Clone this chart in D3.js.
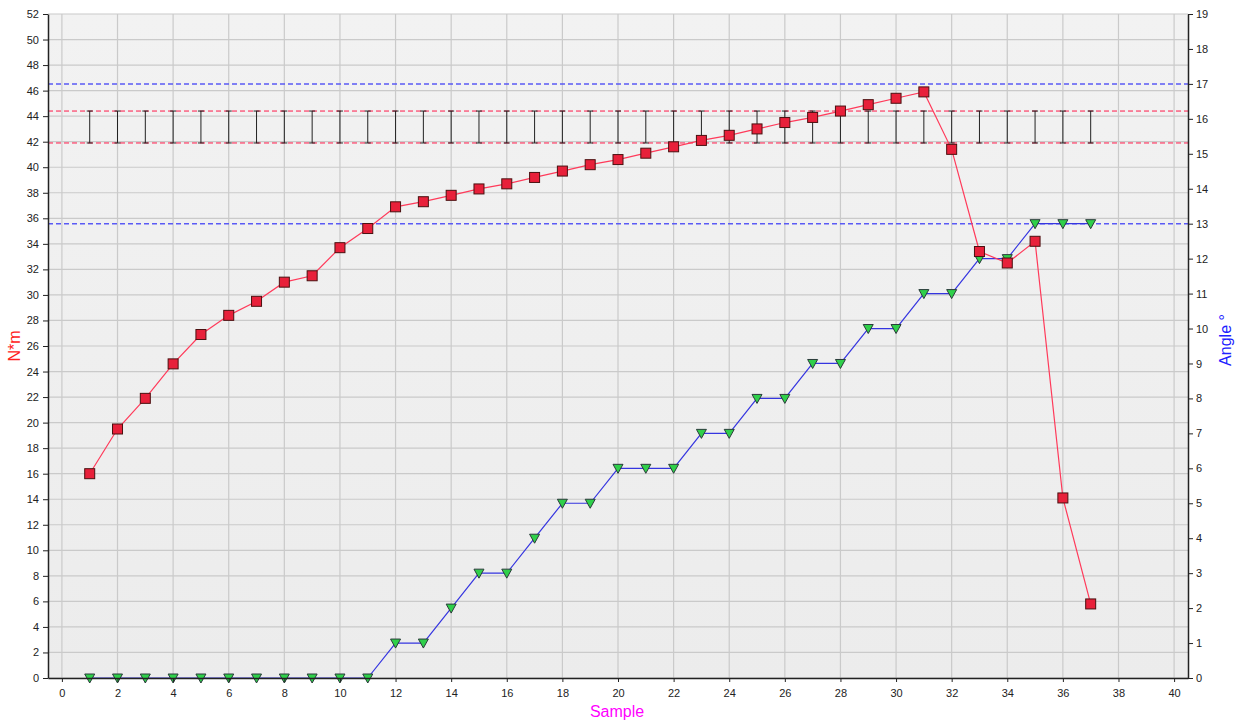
<!DOCTYPE html>
<html>
<head>
<meta charset="utf-8">
<script src="https://cdn.jsdelivr.net/npm/d3@7"></script>
<style>
  body { margin: 0; background: #fff; }
  svg { font-family: "Liberation Sans", Arial, sans-serif; }
</style>
</head>
<body>
<svg id="chart" width="1237" height="720"></svg>
<script>
// 数据
const samples = d3.range(1, 38);
const torque = [16.0, 19.5, 21.9, 24.6, 26.9, 28.4, 29.5, 31.0, 31.5, 33.7,
    35.2, 36.9, 37.3, 37.8, 38.3, 38.7, 39.2, 39.7, 40.2, 40.6,
    41.1, 41.6, 42.1, 42.5, 43.0, 43.5, 43.9, 44.4, 44.9, 45.4,
    45.9, 41.4, 33.4, 32.5, 34.2, 14.1, 5.8];
const angle = [0, 0, 0, 0, 0, 0, 0, 0, 0, 0,
    0, 1, 1, 2, 3, 3, 4, 5, 5, 6,
    6, 6, 7, 7, 8, 8, 9, 9, 10, 10,
    11, 11, 12, 12, 13, 13, 13];
// 扭矩 上下限
const torqueLimits = [41.9, 44.4];
// 角度 上下限
const angleLimits = [13, 17];
const xTicks = d3.range(0, 41, 2);
const leftTicks = d3.range(0, 53, 2);
const rightTicks = d3.range(0, 20, 1);

let svg = d3.select('#chart');
let margin = {left: 48, top: 14, right: 49, bottom: 42},
    width = 1237 - margin.left - margin.right,
    height = 720 - margin.top - margin.bottom;

// 比例尺
let x = d3.scaleLinear().domain([-0.5, 40.5]).range([margin.left, margin.left + width]);
let yL = d3.scaleLinear().domain([0, 52]).range([margin.top + height, margin.top]);
let yR = d3.scaleLinear().domain([0, 19]).range([margin.top + height, margin.top]);

// 背景
let defs = svg.append('defs');
let grad = defs.append('linearGradient').attr('id', 'bg').attr('x1', 0).attr('y1', 0).attr('x2', 0).attr('y2', 1);
grad.append('stop').attr('offset', '0%').attr('stop-color', '#f2f2f2');
grad.append('stop').attr('offset', '100%').attr('stop-color', '#ececec');
svg.append('rect')
    .attr('x', margin.left).attr('y', margin.top)
    .attr('width', width).attr('height', height)
    .attr('fill', 'url(#bg)');

// 网格
let grid = svg.append('g');
grid.selectAll('.hg').data(leftTicks).enter().append('line')
    .attr('x1', margin.left).attr('x2', margin.left + width)
    .attr('y1', d => yL(d)).attr('y2', d => yL(d))
    .attr('stroke', '#cacaca').attr('stroke-width', 1.2);
grid.selectAll('.vg').data(xTicks).enter().append('line')
    .attr('x1', d => x(d)).attr('x2', d => x(d))
    .attr('y1', margin.top).attr('y2', margin.top + height)
    .attr('stroke', '#cacaca').attr('stroke-width', 1.2);

// 上下限 虚线
svg.selectAll('.tl').data(torqueLimits).enter().append('line')
    .attr('x1', margin.left).attr('x2', margin.left + width)
    .attr('y1', d => yL(d)).attr('y2', d => yL(d))
    .attr('stroke', '#ff1a4a').attr('stroke-width', 1).attr('stroke-dasharray', '5,3');
svg.selectAll('.al').data(angleLimits).enter().append('line')
    .attr('x1', margin.left).attr('x2', margin.left + width)
    .attr('y1', d => yR(d)).attr('y2', d => yR(d))
    .attr('stroke', '#5a5af5').attr('stroke-width', 1.5).attr('stroke-dasharray', '5,3');

// 误差线
let eb = svg.append('g').attr('stroke', '#222').attr('stroke-width', 1);
samples.forEach(function (s) {
    eb.append('line').attr('x1', x(s)).attr('x2', x(s))
        .attr('y1', yL(torqueLimits[0])).attr('y2', yL(torqueLimits[1]));
    torqueLimits.forEach(function (v) {
        eb.append('line').attr('x1', x(s) - 3).attr('x2', x(s) + 3)
            .attr('y1', yL(v)).attr('y2', yL(v));
    });
});

// 角度 线
let angleData = samples.map((s, i) => ({s: s, v: angle[i]}));
svg.append('path').datum(angleData)
    .attr('d', d3.line().x(d => x(d.s)).y(d => yR(d.v)))
    .attr('fill', 'none').attr('stroke', '#3535e0').attr('stroke-width', 1.2);

// 扭矩 线
let torqueData = samples.map((s, i) => ({s: s, v: torque[i]}));
svg.append('path').datum(torqueData)
    .attr('d', d3.line().x(d => x(d.s)).y(d => yL(d.v)))
    .attr('fill', 'none').attr('stroke', '#ff3a5a').attr('stroke-width', 1.2);

// 三角形
svg.selectAll('.tri').data(angleData).enter().append('path')
    .attr('d', d => {
        let cx = x(d.s), cy = yR(d.v);
        return 'M' + (cx - 5) + ',' + (cy - 4) + 'L' + (cx + 5) + ',' + (cy - 4) + 'L' + cx + ',' + (cy + 5) + 'Z';
    })
    .attr('fill', '#2fd04a').attr('stroke', '#2a3a3a').attr('stroke-width', 1);

// 方块
svg.selectAll('.sq').data(torqueData).enter().append('rect')
    .attr('x', d => x(d.s) - 5).attr('y', d => yL(d.v) - 5)
    .attr('width', 10).attr('height', 10)
    .attr('fill', '#e8203a').attr('stroke', '#4a1010').attr('stroke-width', 1);

// 坐标轴
let axisB = svg.append('g').attr('transform', 'translate(0,' + (margin.top + height) + ')')
    .call(d3.axisBottom(x).tickValues(xTicks).tickSize(4).tickSizeOuter(0));
let axisL = svg.append('g').attr('transform', 'translate(' + margin.left + ',0)')
    .call(d3.axisLeft(yL).tickValues(leftTicks).tickSize(5).tickSizeOuter(0));
let axisR = svg.append('g').attr('transform', 'translate(' + (margin.left + width) + ',0)')
    .call(d3.axisRight(yR).tickValues(rightTicks).tickSize(5).tickSizeOuter(0));
[axisB, axisL, axisR].forEach(function (a) {
    a.selectAll('text').attr('font-size', 11).attr('fill', '#222').style('font-family', '"Liberation Sans", Arial, sans-serif');
    a.select('.domain').attr('stroke', '#222').attr('stroke-width', 1.5);
    a.selectAll('.tick line').attr('stroke', '#222');
});
axisB.selectAll('text').attr('dy', '1.1em');
axisL.selectAll('text').attr('dx', '-1px');

// 坐标轴 标题
svg.append('text').text('Sample')
    .attr('x', 617).attr('y', 717).attr('text-anchor', 'middle')
    .attr('fill', '#ff00ff').attr('font-size', 16);
svg.append('text').text('N*m')
    .attr('transform', 'translate(20,346) rotate(-90)').attr('text-anchor', 'middle')
    .attr('fill', '#ff2020').attr('font-size', 16);
svg.append('text').text('Angle °')
    .attr('transform', 'translate(1231,340) rotate(-90)').attr('text-anchor', 'middle')
    .attr('fill', '#2020ff').attr('font-size', 16);
</script>
</body>
</html>
